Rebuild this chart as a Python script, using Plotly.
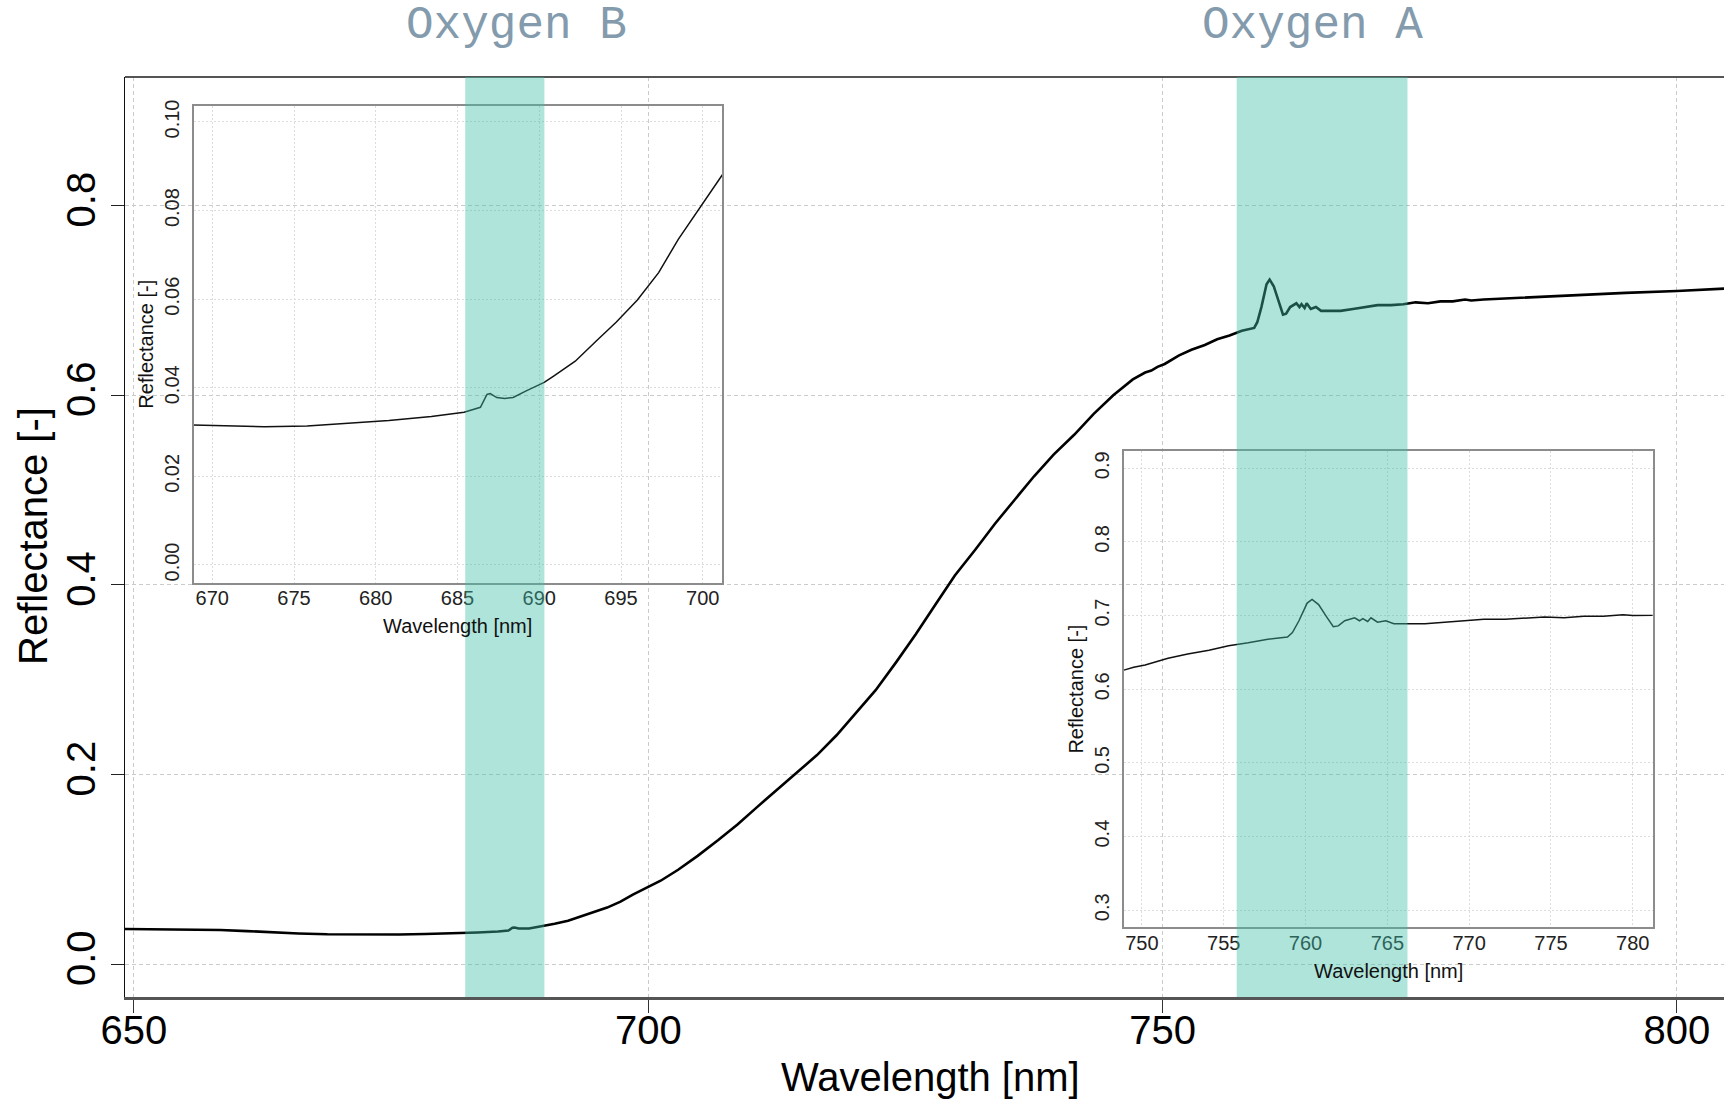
import plotly.graph_objects as go

# ---------------- data ----------------
wavelength = [649.13, 652.0, 655.0, 658.4, 661.0, 663.7, 666.0, 668.8,
              670.7, 673.2, 675.8, 678.3, 680.8, 683.4, 685.4, 686.4, 686.8, 687.0,
              687.4, 687.9, 688.4, 689.2, 690.3, 690.9, 692.2, 693.5, 694.7, 696.0,
              697.3, 698.5, 699.8, 701.2,
              702.9, 704.8, 706.8, 708.7, 710.6, 712.5, 714.5, 716.4, 718.3, 720.2,
              722.1, 724.1, 726.0, 727.9, 729.8, 731.8, 733.7, 735.6, 737.5, 739.4,
              741.4, 743.3, 745.2, 747.1, 748.3,
              748.9, 749.5, 750.2, 751.6, 752.8, 754.1, 755.3, 756.5, 757.7, 758.9,
              759.2, 759.6, 760.1, 760.4, 760.8, 761.3, 761.7, 762.0, 762.4, 763.0,
              763.3, 763.5, 763.8, 764.0, 764.4, 764.9, 765.4, 766.1, 767.3, 768.5,
              769.7, 770.9, 772.2, 773.4, 774.6, 775.8, 777.0, 778.2, 779.4, 780.0,
              781.2, 785.0, 790.0, 795.0, 800.0, 804.6]
reflectance = [0.0372, 0.0370, 0.0367, 0.0362, 0.0350, 0.0335, 0.0325, 0.0316,
               0.0314, 0.0312, 0.0314, 0.0320, 0.0326, 0.0335, 0.0345, 0.0356, 0.0385, 0.0387,
               0.0378, 0.0376, 0.0378, 0.0393, 0.0412, 0.0427, 0.0460, 0.0506, 0.0548, 0.0598,
               0.0660, 0.0735, 0.0806, 0.0881,
               0.0997, 0.1143, 0.131, 0.1476, 0.166, 0.1839, 0.202, 0.2206, 0.2415, 0.2652,
               0.289, 0.3186, 0.348, 0.3791, 0.410, 0.4374, 0.4645, 0.4896, 0.5146, 0.5374,
               0.5583, 0.5804, 0.600, 0.6167, 0.624,
               0.626, 0.630, 0.633, 0.642, 0.648, 0.653, 0.659, 0.663, 0.668, 0.671,
               0.677, 0.693, 0.717, 0.722, 0.715, 0.698, 0.685, 0.686, 0.693, 0.697,
               0.693, 0.696, 0.692, 0.697, 0.691, 0.693, 0.689, 0.689, 0.689, 0.691,
               0.693, 0.695, 0.695, 0.696, 0.698, 0.697, 0.699, 0.699, 0.701, 0.700,
               0.701, 0.703, 0.706, 0.708, 0.710, 0.7125]

band_names = ["Oxygen B", "Oxygen A"]
band_start = [682.2, 757.2]   # wavelength, main axis
band_end = [689.9, 773.8]
label_x = [687.2, 764.6]

main_xticks = [650, 700, 750, 800]
main_yticks = [0.0, 0.2, 0.4, 0.6, 0.8]
insetB_xticks = [670, 675, 680, 685, 690, 695, 700]
insetB_yticks = [0.00, 0.02, 0.04, 0.06, 0.08, 0.10]
insetA_xticks = [750, 755, 760, 765, 770, 775, 780]
insetA_yticks = [0.3, 0.4, 0.5, 0.6, 0.7, 0.8, 0.9]

# ---------------- figure ----------------
W, H = 1724, 1102
ML, MR, MT, MB = 125, 0, 77, 105
FONT = "Liberation Sans, Arial, sans-serif"

fig = go.Figure()
fig.add_trace(go.Scatter(x=wavelength, y=reflectance, mode="lines",
                         line=dict(color="black", width=2.6), xaxis="x", yaxis="y",
                         showlegend=False, hoverinfo="skip"))
fig.add_trace(go.Scatter(x=wavelength, y=reflectance, mode="lines",
                         line=dict(color="#111", width=1.5), xaxis="x2", yaxis="y2",
                         showlegend=False, hoverinfo="skip"))
fig.add_trace(go.Scatter(x=wavelength, y=reflectance, mode="lines",
                         line=dict(color="#111", width=1.5), xaxis="x3", yaxis="y3",
                         showlegend=False, hoverinfo="skip"))

pw = W - ML - MR
ph = H - MT - MB


def px_x(p):
    return (p - ML) / pw


def px_y(p):
    return (H - MB - p) / ph


main_grid = dict(showgrid=True, gridcolor="#cbcbcb", gridwidth=1, griddash="4px,3px")
inset_grid = dict(showgrid=True, gridcolor="#dcdcdc", gridwidth=1, griddash="2px,2px")

fig.update_layout(
    width=W, height=H,
    margin=dict(l=ML, r=MR, t=MT, b=MB, autoexpand=False),
    paper_bgcolor="white", plot_bgcolor="rgba(0,0,0,0)",
    font=dict(family=FONT, color="black"),
    xaxis=dict(domain=[0, 1], range=[649.13, 804.57], tickvals=main_xticks,
               ticks="outside", ticklen=13, tickwidth=1.2, tickcolor="#333",
               tickfont=dict(size=40), showline=True, linecolor="#555", linewidth=2.5,
               zeroline=False, anchor="y", ticklabelstandoff=-17, **main_grid),
    yaxis=dict(domain=[0, 1], range=[-0.0345, 0.9356], tickvals=main_yticks,
               tickformat=".1f", tickangle=-90,
               ticks="outside", ticklen=13, tickwidth=1.2, tickcolor="#222",
               tickfont=dict(size=40), showline=True, linecolor="#111", linewidth=1.4,
               zeroline=False, anchor="x", **main_grid),
    xaxis2=dict(domain=[px_x(193.5), px_x(722.4)], range=[668.85, 701.2],
                tickvals=insetB_xticks, ticks="", tickfont=dict(size=20, color="#222"),
                showline=True, mirror=True, linecolor="#8c8c8c", linewidth=1.5,
                zeroline=False, anchor="y2", ticklabelstandoff=-3, **inset_grid),
    yaxis2=dict(domain=[px_y(582.7), px_y(105.6)], range=[-0.004, 0.1037],
                tickvals=insetB_yticks, tickformat=".2f", tickangle=-90, ticks="",
                tickfont=dict(size=20, color="#222"),
                showline=True, mirror=True, linecolor="#8c8c8c", linewidth=1.5,
                zeroline=False, anchor="x2", ticklabelstandoff=5, **inset_grid),
    xaxis3=dict(domain=[px_x(1123.7), px_x(1652.6)], range=[748.89, 781.21],
                tickvals=insetA_xticks, ticks="", tickfont=dict(size=20, color="#222"),
                showline=True, mirror=True, linecolor="#8c8c8c", linewidth=1.5,
                zeroline=False, anchor="y3", ticklabelstandoff=-3, **inset_grid),
    yaxis3=dict(domain=[px_y(927.0), px_y(450.8)], range=[0.2773, 0.9237],
                tickvals=insetA_yticks, tickformat=".1f", tickangle=-90, ticks="",
                tickfont=dict(size=20, color="#222"),
                showline=True, mirror=True, linecolor="#8c8c8c", linewidth=1.5,
                zeroline=False, anchor="x3", ticklabelstandoff=5, **inset_grid),
)

# top frame line of the main panel
fig.add_shape(type="line", xref="paper", yref="paper", x0=0, x1=1, y0=1, y1=1,
              line=dict(color="#555", width=2), layer="above")

# oxygen absorption bands (drawn over everything, semi-transparent)
for s, e in zip(band_start, band_end):
    fig.add_shape(type="rect", xref="x", yref="paper", x0=s, x1=e, y0=0, y1=1,
                  fillcolor="rgba(64,191,170,0.42)", line=dict(width=0), layer="above")

annotations = []
for name, lx in zip(band_names, label_x):
    annotations.append(dict(text=name, xref="x", yref="paper", x=lx, y=px_y(26),
                            showarrow=False, xanchor="center", yanchor="middle",
                            font=dict(family="Liberation Mono, Courier New, monospace",
                                      size=46, color="#839bac")))
# main axis titles
annotations.append(dict(text="Wavelength [nm]", xref="paper", yref="paper",
                        x=px_x(930), y=px_y(1077), showarrow=False,
                        xanchor="center", yanchor="middle", font=dict(size=40)))
annotations.append(dict(text="Reflectance [-]", xref="paper", yref="paper",
                        x=px_x(33), y=px_y(536), showarrow=False, textangle=-90,
                        xanchor="center", yanchor="middle", font=dict(size=40)))
# inset titles
for xa, ya, dy, dx in [("x2", "y2", -43, -47), ("x3", "y3", -44, -48)]:
    annotations.append(dict(text="Wavelength [nm]", xref=f"{xa} domain", yref=f"{ya} domain",
                            x=0.5, y=0, yshift=dy, showarrow=False,
                            xanchor="center", yanchor="middle",
                            font=dict(size=20, color="#111")))
    annotations.append(dict(text="Reflectance [-]", xref=f"{xa} domain", yref=f"{ya} domain",
                            x=0, y=0.5, xshift=dx, showarrow=False, textangle=-90,
                            xanchor="center", yanchor="middle",
                            font=dict(size=20, color="#111")))
fig.update_layout(annotations=annotations)

fig.write_html("out.html")
